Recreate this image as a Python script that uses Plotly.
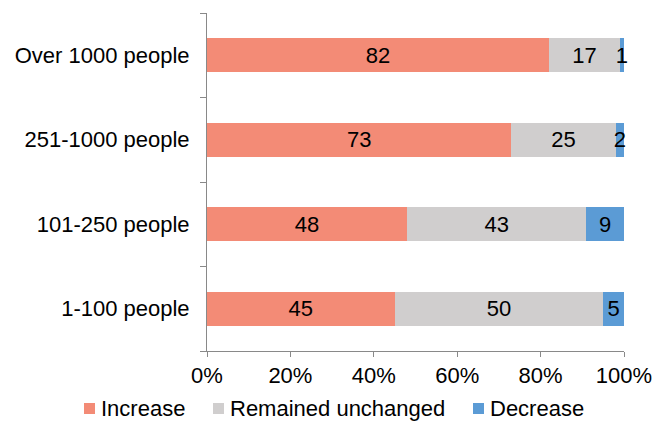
import plotly.graph_objects as go

# Survey: change by company size (percent of respondents)
categories = ["1-100 people", "101-250 people", "251-1000 people", "Over 1000 people"]
increase = [45, 48, 73, 82]
unchanged = [50, 43, 25, 17]
decrease = [5, 9, 2, 1]
series_names = ["Increase", "Remained unchanged", "Decrease"]
series_colors = ["#F38B76", "#D0CECE", "#5B9BD5"]
series_values = [increase, unchanged, decrease]

FONT = "Liberation Sans, Arial, sans-serif"
FS = 22

W, H = 668, 421
PLOT_L, PLOT_R = 207, 624
PLOT_TOP, PLOT_BOTTOM = 13, 351
PLOT_W = PLOT_R - PLOT_L
PLOT_H = PLOT_BOTTOM - PLOT_TOP


def px_to_paper_x(px):
    return (px - PLOT_L) / PLOT_W


def px_to_paper_y(py):
    return (PLOT_BOTTOM - py) / PLOT_H


fig = go.Figure()
for name, vals, color in zip(series_names, series_values, series_colors):
    fig.add_trace(go.Bar(
        name=name,
        y=categories,
        x=vals,
        orientation="h",
        marker=dict(color=color, line=dict(width=0)),
        text=[str(v) for v in vals],
        textposition="inside",
        insidetextanchor="middle",
        constraintext="none",
        textfont=dict(family=FONT, size=FS, color="#000000"),
        cliponaxis=False,
        showlegend=False,
    ))

# Legend row below the axis: square key + label per series
legend_key_left = [84, 213, 473]
KEY_SIZE = 11
KEY_CENTER_Y = 408.5
LABEL_GAP = 5
for name, color, kx in zip(series_names, series_colors, legend_key_left):
    fig.add_shape(
        type="rect",
        xref="paper", yref="paper",
        x0=px_to_paper_x(kx), x1=px_to_paper_x(kx + KEY_SIZE),
        y0=px_to_paper_y(KEY_CENTER_Y + KEY_SIZE / 2),
        y1=px_to_paper_y(KEY_CENTER_Y - KEY_SIZE / 2),
        fillcolor=color,
        line=dict(width=0),
        layer="above",
    )
    fig.add_annotation(
        xref="paper", yref="paper",
        x=px_to_paper_x(kx + KEY_SIZE + LABEL_GAP),
        y=px_to_paper_y(KEY_CENTER_Y),
        xanchor="left", yanchor="middle",
        text=name,
        showarrow=False,
        font=dict(family=FONT, size=FS, color="#000000"),
        borderpad=0,
    )

fig.update_layout(
    barmode="stack",
    bargap=0.6,
    width=W,
    height=H,
    margin=dict(l=PLOT_L, r=W - PLOT_R, t=PLOT_TOP, b=H - PLOT_BOTTOM),
    paper_bgcolor="white",
    plot_bgcolor="white",
    font=dict(family=FONT, size=FS, color="#000000"),
    showlegend=False,
)

fig.update_xaxes(
    range=[0, 100],
    tickvals=[0, 20, 40, 60, 80, 100],
    ticktext=["0%", "20%", "40%", "60%", "80%", "100%"],
    showgrid=False,
    zeroline=False,
    showline=True,
    linecolor="#898989",
    linewidth=1,
    ticks="outside",
    ticklen=5,
    tickcolor="#898989",
    tickfont=dict(family=FONT, size=FS, color="#000000"),
    fixedrange=True,
)

fig.update_yaxes(
    categoryorder="array",
    categoryarray=categories,
    showgrid=False,
    zeroline=False,
    showline=True,
    linecolor="#898989",
    linewidth=1,
    ticks="outside",
    tickson="boundaries",
    ticklen=6,
    tickcolor="#898989",
    tickfont=dict(family=FONT, size=FS, color="#000000"),
    ticklabelstandoff=12,
    fixedrange=True,
)

fig.write_html("out.html")
